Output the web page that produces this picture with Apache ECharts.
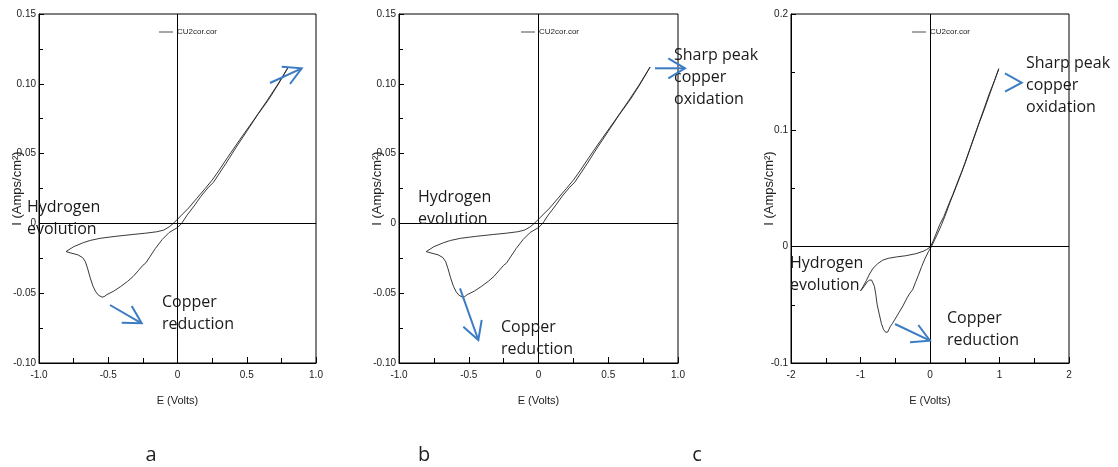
<!DOCTYPE html>
<html><head><meta charset="utf-8">
<script src="https://cdn.jsdelivr.net/npm/echarts@6/dist/echarts.min.js"></script>
<style>html,body{margin:0;padding:0;background:#fff}#c{width:1118px;height:467px}</style>
</head><body><div id="c"></div>
<script>
// ---------- DATA ----------
const seriesName = 'CU2cor.cor';
// Panels a and b (same scan): potential E (V) and current I (A/cm2), closed loop
const eAB = [0.80,0.72,0.64,0.55,0.45,0.36,0.30,0.25,0.20,0.14,0.08,0.03,0.0,-0.03,-0.06,-0.10,-0.15,-0.23,-0.32,-0.45,-0.56,-0.63,-0.68,-0.75,-0.805,
  -0.77,-0.72,-0.685,-0.665,-0.65,-0.63,-0.61,-0.59,-0.57,-0.545,-0.53,-0.51,-0.46,-0.41,-0.36,-0.32,-0.28,-0.25,-0.23,-0.20,-0.16,-0.11,-0.06,0.0,0.03,0.07,0.12,0.17,0.22,0.26,0.29,0.35,0.42,0.50,0.58,0.66,0.73,0.80];
const iAB = [0.112,0.099,0.087,0.074,0.060,0.047,0.038,0.031,0.025,0.018,0.011,0.006,0.003,0.0,-0.0025,-0.0048,-0.006,-0.007,-0.0079,-0.0093,-0.0107,-0.0122,-0.0138,-0.0167,-0.0202,
  -0.0212,-0.0225,-0.0245,-0.0275,-0.032,-0.039,-0.045,-0.049,-0.0515,-0.0528,-0.0525,-0.051,-0.0485,-0.0452,-0.0415,-0.038,-0.0335,-0.0300,-0.0285,-0.024,-0.018,-0.0115,-0.0065,-0.003,0.0,0.006,0.0125,0.0195,0.0255,0.0295,0.034,0.043,0.054,0.066,0.078,0.089,0.100,0.112];
// Panel c
const eC = [0.99,0.9,0.8,0.7,0.6,0.5,0.40,0.33,0.28,0.2,0.14,0.08,0.04,0.0,-0.05,-0.10,-0.2,-0.35,-0.48,-0.6,-0.68,-0.75,-0.82,-0.87,-0.915,-0.96,-1.0,
  -0.97,-0.94,-0.90,-0.87,-0.84,-0.82,-0.80,-0.78,-0.76,-0.73,-0.70,-0.67,-0.64,-0.61,-0.59,-0.57,-0.54,-0.51,-0.45,-0.39,-0.33,-0.29,-0.25,-0.21,-0.17,-0.12,-0.07,-0.02,0.02,0.06,0.10,0.16,0.22,0.30,0.38,0.45,0.55,0.65,0.75,0.85,0.93,0.99];
const iC = [0.153,0.138,0.121,0.105,0.088,0.071,0.056,0.045,0.038,0.026,0.019,0.010,0.004,-0.0005,-0.0025,-0.0040,-0.0060,-0.0078,-0.0088,-0.0100,-0.0116,-0.0145,-0.0186,-0.0235,-0.0290,-0.034,-0.038,
  -0.036,-0.0335,-0.030,-0.0288,-0.0287,-0.030,-0.034,-0.041,-0.050,-0.058,-0.066,-0.071,-0.0735,-0.0735,-0.071,-0.0685,-0.066,-0.063,-0.057,-0.051,-0.044,-0.040,-0.037,-0.031,-0.025,-0.017,-0.010,-0.004,0.0,0.005,0.010,0.018,0.027,0.040,0.052,0.063,0.080,0.097,0.114,0.131,0.143,0.153];
// Tick values and labels
const xTickValsAB = [-1, -0.5, 0, 0.5, 1];
const xTickLabelsAB = ['-1.0', '-0.5', '0', '0.5', '1.0'];
const yTickValsAB = [-0.10, -0.05, 0, 0.05, 0.10, 0.15];
const yTickLabelsAB = ['-0.10', '-0.05', '0', '0.05', '0.10', '0.15'];
const xTickValsC = [-2, -1, 0, 1, 2];
const xTickLabelsC = ['-2', '-1', '0', '1', '2'];
const yTickValsC = [-0.1, 0, 0.1, 0.2];
const yTickLabelsC = ['-0.1', '0', '0.1', '0.2'];
const panelLabels = ['a', 'b', 'c'];
const xName = 'E (Volts)';
const yName = 'I (Amps/cm²)';
const notes = {
  hydrogen: 'Hydrogen\nevolution',
  copper: 'Copper\nreduction',
  sharp: 'Sharp peak\ncopper\noxidation'
};

// ---------- CHART ----------
const NARROW = "'Liberation Sans Narrow','Liberation Sans',sans-serif";
const TXT = "'Open Sans','Noto Sans',sans-serif";
const BLUE = '#3b7cc4';

function fmt(vals, labels) {
  return v => { for (let k = 0; k < vals.length; k++) if (Math.abs(vals[k] - v) < 1e-9) return labels[k]; return ''; };
}
function xAxis(g, min, max, interval, vals, labels) {
  return {
    type: 'value', gridIndex: g, min, max, interval,
    name: xName, nameLocation: 'middle', nameGap: 32, nameMoveOverlap: false,
    nameTextStyle: { fontFamily: NARROW, fontSize: 11, color: '#222' },
    axisLine: { show: true, onZero: false, lineStyle: { color: '#000', width: 1 } },
    axisTick: { show: true, inside: true, length: 6, lineStyle: { color: '#000' } },
    minorTick: { show: true, splitNumber: 2, length: 5, lineStyle: { color: '#000' } },
    splitLine: { show: false },
    axisLabel: { fontFamily: NARROW, fontSize: 10, color: '#222', margin: 7, formatter: fmt(vals, labels) }
  };
}
function yAxis(g, min, max, interval, vals, labels) {
  return {
    type: 'value', gridIndex: g, min, max, interval,
    name: yName, nameLocation: 'middle', nameGap: 15, nameMoveOverlap: false,
    nameTextStyle: { fontFamily: "'Liberation Sans',sans-serif", fontSize: 13, color: '#222' },
    axisLine: { show: true, onZero: false, lineStyle: { color: '#000', width: 1 } },
    axisTick: { show: true, inside: true, length: 5, lineStyle: { color: '#000' } },
    minorTick: { show: true, splitNumber: 2, length: 4, lineStyle: { color: '#000' } },
    splitLine: { show: false },
    axisLabel: { fontFamily: NARROW, fontSize: 10, color: '#222', margin: 3, formatter: fmt(vals, labels) }
  };
}
function series(idx, es, is) {
  return {
    name: seriesName, type: 'line', xAxisIndex: idx, yAxisIndex: idx,
    data: es.map((e, k) => [e, is[k]]),
    showSymbol: false, symbol: 'none', smooth: false, animation: false,
    lineStyle: { color: '#222', width: 0.9 }, itemStyle: { color: '#222' },
    markLine: {
      silent: true, symbol: ['none', 'none'], animation: false,
      label: { show: false },
      lineStyle: { color: '#000', width: 1, type: 'solid' },
      data: [{ xAxis: 0 }, { yAxis: 0 }]
    }
  };
}
function legend(left) {
  return {
    left, top: 28, padding: 0, data: [seriesName],
    icon: 'path://M0,0H20V1H0Z', itemWidth: 14, itemHeight: 1.3, itemGap: 4,
    itemStyle: { color: '#000' },
    textStyle: { fontFamily: NARROW, fontSize: 8, color: '#222', padding: [0, 0, 0, -1] },
    selectedMode: false
  };
}
function arrow(pts) {
  return { type: 'polyline', shape: { points: pts }, style: { stroke: BLUE, lineWidth: 2, fill: null }, z: 100 };
}
function note(x, y, text) {
  return { type: 'text', x, y, z: 100, style: { text, font: '16px ' + TXT, fill: '#1a1a1a', lineHeight: 22 } };
}
function plabel(x, text) {
  return { type: 'text', x, y: 455, z: 100, style: { text, font: '20px ' + TXT, fill: '#222', align: 'center', verticalAlign: 'middle' } };
}

const grids = [
  { left: 39, top: 14, width: 277, height: 349 },
  { left: 399, top: 14, width: 279, height: 349 },
  { left: 791, top: 14, width: 278, height: 349 }
].map(g => Object.assign({ show: true, borderColor: '#000', borderWidth: 1, backgroundColor: 'transparent', containLabel: false, outerBoundsMode: 'none' }, g));

const option = {
  backgroundColor: '#fff',
  animation: false,
  grid: grids,
  legend: [legend(159), legend(521), legend(912)],
  xAxis: [
    xAxis(0, -1, 1, 0.5, xTickValsAB, xTickLabelsAB),
    xAxis(1, -1, 1, 0.5, xTickValsAB, xTickLabelsAB),
    xAxis(2, -2, 2, 1, xTickValsC, xTickLabelsC)
  ],
  yAxis: [
    yAxis(0, -0.10, 0.15, 0.05, yTickValsAB, yTickLabelsAB),
    yAxis(1, -0.10, 0.15, 0.05, yTickValsAB, yTickLabelsAB),
    yAxis(2, -0.1, 0.2, 0.1, yTickValsC, yTickLabelsC)
  ],
  series: [series(0, eAB, iAB), series(1, eAB, iAB), series(2, eC, iC)],
  graphic: [
    // panel a
    note(27, 196, notes.hydrogen), note(162, 291, notes.copper),
    arrow([[270, 83], [301.7, 68.3]]), arrow([[281.7, 66.7], [301.7, 68.3], [290, 84]]),
    arrow([[110, 305], [141.7, 323.3]]), arrow([[131.7, 306], [141.7, 323.3], [121.7, 322.7]]),
    // panel b
    note(418, 186, notes.hydrogen), note(501, 316, notes.copper), note(674, 44, notes.sharp),
    arrow([[655, 68.3], [685, 68.3]]), arrow([[668.3, 58.3], [685, 68.3], [668.3, 78.3]]),
    arrow([[460, 288.3], [478.3, 340]]), arrow([[463.3, 326.7], [478.3, 340], [481.7, 320]]),
    // panel c
    note(790, 252, notes.hydrogen), note(947, 307, notes.copper), note(1026, 52, notes.sharp),
    arrow([[1005, 73.3], [1021.7, 82.7], [1005, 91.7]]),
    arrow([[895, 324], [930, 340.7]]), arrow([[918.3, 325], [930, 340.7], [910, 342.3]]),
    plabel(151, panelLabels[0]), plabel(424, panelLabels[1]), plabel(697, panelLabels[2])
  ]
};
const chart = echarts.init(document.getElementById('c'), null, { renderer: 'canvas' });
chart.setOption(option);
</script>
</body></html>
